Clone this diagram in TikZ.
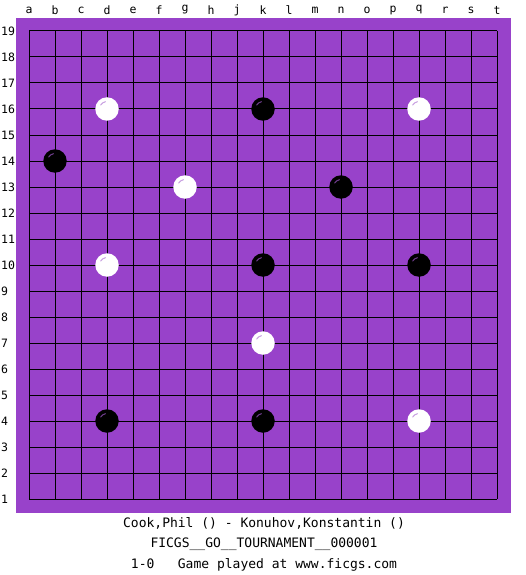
\documentclass[tikz,border=0pt]{standalone}
\usepackage{fontspec}
\setmonofont{DejaVu Sans Mono}
\usepackage{tikz}

\definecolor{boardpurple}{RGB}{152,66,202}
\definecolor{shineblack}{RGB}{110,60,140}
\definecolor{shinewhite}{RGB}{200,160,225}

\tikzset{
	stone/.style={shape=circle,minimum size=23.5pt,inner sep=0pt},
	blackstone/.style={stone,fill=black,
		path picture={\draw[shineblack,line width=1pt]
			([shift={(100:7.5pt)}]path picture bounding box.center)
			arc[start angle=100,end angle=150,radius=7.5pt];}},
	whitestone/.style={stone,fill=white,
		path picture={\draw[shinewhite,line width=1pt]
			([shift={(100:7.5pt)}]path picture bounding box.center)
			arc[start angle=100,end angle=150,radius=7.5pt];}},
	coordlabel/.style={font=\ttfamily\fontsize{11.5}{11.5}\selectfont,inner sep=0pt},
	caption/.style={font=\ttfamily\fontsize{13}{13}\selectfont,inner sep=0pt}
}

\begin{document}
\begin{tikzpicture}[x=1pt,y=-1pt]
	
	\useasboundingbox[fill=white] (0,0) rectangle (525,575);
	\fill[boardpurple] (16,18) rectangle (511,513);
	
	% grid
	\foreach \i in {0,...,18} {
		\draw[line width=1pt] (29+26*\i,31) -- (29+26*\i,499);
		\draw[line width=1pt] (29,31+26*\i) -- (497,31+26*\i);
	}
	
	% letters and numbers
	\foreach \l [count=\i from 0] in {a,b,c,d,e,f,g,h,j,k,l,m,n,o,p,q,r,s,t}
		\node[coordlabel] (col-\l) at (29+26*\i,10) {\l};
	\foreach \n in {1,...,19}
		\node[coordlabel,anchor=west] (row-\n) at (1,31+26*19-26*\n) {\n};
	
	% white stones
	\node[whitestone] (d16) at (107,109) {};
	\node[whitestone] (q16) at (419,109) {};
	\node[whitestone] (g13) at (185,187) {};
	\node[whitestone] (d10) at (107,265) {};
	\node[whitestone] (k7)  at (263,343) {};
	\node[whitestone] (q4)  at (419,421) {};
	
	% black stones
	\node[blackstone] (k16) at (263,109) {};
	\node[blackstone] (b14) at (55,161)  {};
	\node[blackstone] (n13) at (341,187) {};
	\node[blackstone] (k10) at (263,265) {};
	\node[blackstone] (q10) at (419,265) {};
	\node[blackstone] (d4)  at (107,421) {};
	\node[blackstone] (k4)  at (263,421) {};
	
	\node[caption] (players) at (264,523) {Cook,Phil () - Konuhov,Konstantin ()};
	\node[caption] (event)   at (264,544) {FICGS\_\_GO\_\_TOURNAMENT\_\_000001};
	\node[caption] (result)  at (264,565) {1-0\ \ \ Game played at www.ficgs.com};
	
\end{tikzpicture}
\end{document}
